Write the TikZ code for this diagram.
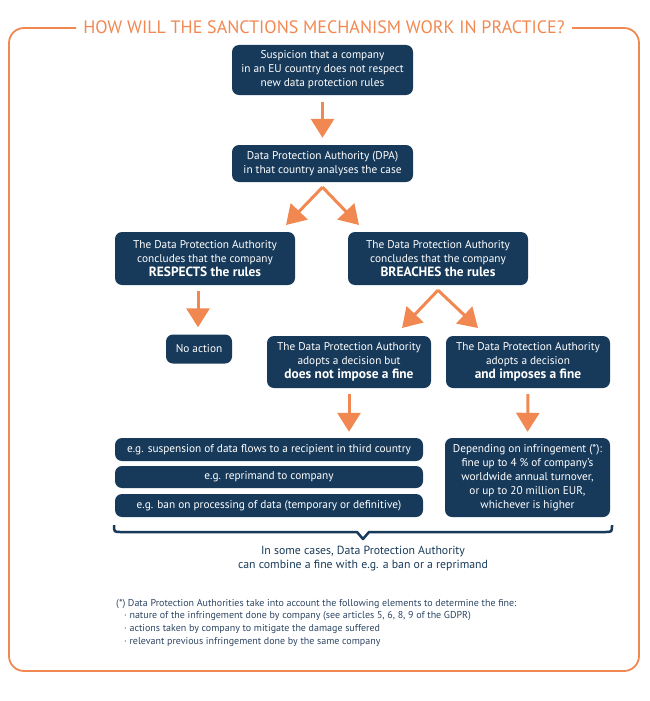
\documentclass[tikz,border=0pt]{standalone}
\usepackage{fontspec}
\setmainfont{PT Sans}
\usetikzlibrary{arrows.meta,calc}
\definecolor{navy}{RGB}{24,58,90}
\definecolor{orng}{RGB}{241,136,82}
\definecolor{foot}{RGB}{45,70,100}
\tikzset{
  box/.style={fill=navy, rounded corners=7pt, text=white, align=center, inner sep=0pt,
    font=\fontsize{11.3}{14}\selectfont},
  flow/.style={draw=orng, line width=3pt, -{Triangle[width=23pt,length=19pt]}},
}
\newcommand{\bl}[1]{{\fontsize{13.4}{14}\selectfont\bfseries #1}}
\begin{document}
\begin{tikzpicture}[x=1pt,y=-1pt]
\useasboundingbox (0,0) rectangle (650,701);
% frame
\draw[orng, line width=1.8pt, rounded corners=15pt] (76,28) -- (9,28) -- (9,671) -- (639,671) -- (639,28) -- (572,28);
\node[text=orng, font=\fontsize{18}{20}\selectfont, inner sep=0pt] (title) at (324,27) {HOW WILL THE SANCTIONS MECHANISM WORK IN PRACTICE?};
% boxes
\node[box, minimum width=181pt, minimum height=50pt] (b1) at (322.5,70) {Suspicion that a company\\in an EU country does not respect\\new data protection rules};
\node[box, minimum width=181pt, minimum height=37pt] (b2) at (322.5,163.5) {Data Protection Authority (DPA)\\in that country analyses the case};
\node[box, minimum width=180pt, minimum height=53pt] (b3) at (205,258.5) {The Data Protection Authority\\concludes that the company\\\bl{RESPECTS the rules}};
\node[box, minimum width=180pt, minimum height=53pt] (b4) at (438,258.5) {The Data Protection Authority\\concludes that the company\\\bl{BREACHES the rules}};
\node[box, minimum width=66pt, minimum height=29pt] (na) at (199,349) {No action};
\node[box, minimum width=164pt, minimum height=52pt] (b5) at (349,362) {The Data Protection Authority\\adopts a decision but\\\bl{does not impose a fine}};
\node[box, minimum width=164pt, minimum height=52pt] (b6) at (528,362) {The Data Protection Authority\\adopts a decision\\\bl{and imposes a fine}};
\node[box, minimum width=308pt, minimum height=23pt] (l1) at (269,449.5) {e.g. suspension of data flows to a recipient in third country};
\node[box, minimum width=308pt, minimum height=22pt] (l2) at (269,477) {e.g. reprimand to company};
\node[box, minimum width=308pt, minimum height=23pt] (l3) at (269,505.5) {e.g. ban on processing of data (temporary or definitive)};
\node[box, minimum width=165pt, minimum height=79pt] (fine) at (527.5,477.5) {Depending on infringement (*):\\fine up to 4 \% of company’s\\worldwide annual turnover,\\or up to 20 million EUR,\\whichever is higher};
% arrows
\draw[flow, shorten <=7pt, shorten >=7pt] (b1.south) -- (b2.north);
\coordinate (s1) at ($(b2.south)+(0,5)$);
\coordinate (t3) at (286,225);
\coordinate (t4) at (359,225);
\draw[flow] (s1) -- (t3);
\draw[flow] (s1) -- (t4);
\coordinate (n3) at (198,291);
\draw[flow, shorten >=7pt] (n3) -- (na.north -| n3);
\coordinate (s2) at ($(b4.south)+(0,5)$);
\coordinate (t5) at (402,328);
\coordinate (t6) at (478,328);
\draw[flow] (s2) -- (t5);
\draw[flow] (s2) -- (t6);
\draw[flow, shorten <=6pt, shorten >=6pt] (b5.south) -- (b5.south |- l1.north);
\draw[flow, shorten <=6pt, shorten >=6pt] (b6.south) -- (fine.north);
% brace
\coordinate (brL) at (114,525);
\coordinate (brR) at (612,525);
\coordinate (brT) at (363,539);
\draw[navy, line width=2.5pt, line join=round] (brL) .. controls (114,532) .. (121,532) -- (357,532) -- (brT) -- (369,532) -- (605,532) .. controls (612,532) .. (brR);
\node[text=navy, align=center, font=\fontsize{11.8}{13.5}\selectfont, inner sep=0pt] (comb) at (363,558.5) {In some cases, Data Protection Authority\\can combine a fine with e.g. a ban or a reprimand};
% footnote
\node[text=foot, align=left, anchor=north west, font=\fontsize{10}{12.6}\selectfont, inner sep=0pt] (fn) at (116,599) {(*) Data Protection Authorities take into account the following elements to determine the fine:\\
\hspace*{8pt}· nature of the infringement done by company (see articles 5, 6, 8, 9 of the GDPR)\\
\hspace*{8pt}· actions taken by company to mitigate the damage suffered\\
\hspace*{8pt}· relevant previous infringement done by the same company};
\end{tikzpicture}
\end{document}
